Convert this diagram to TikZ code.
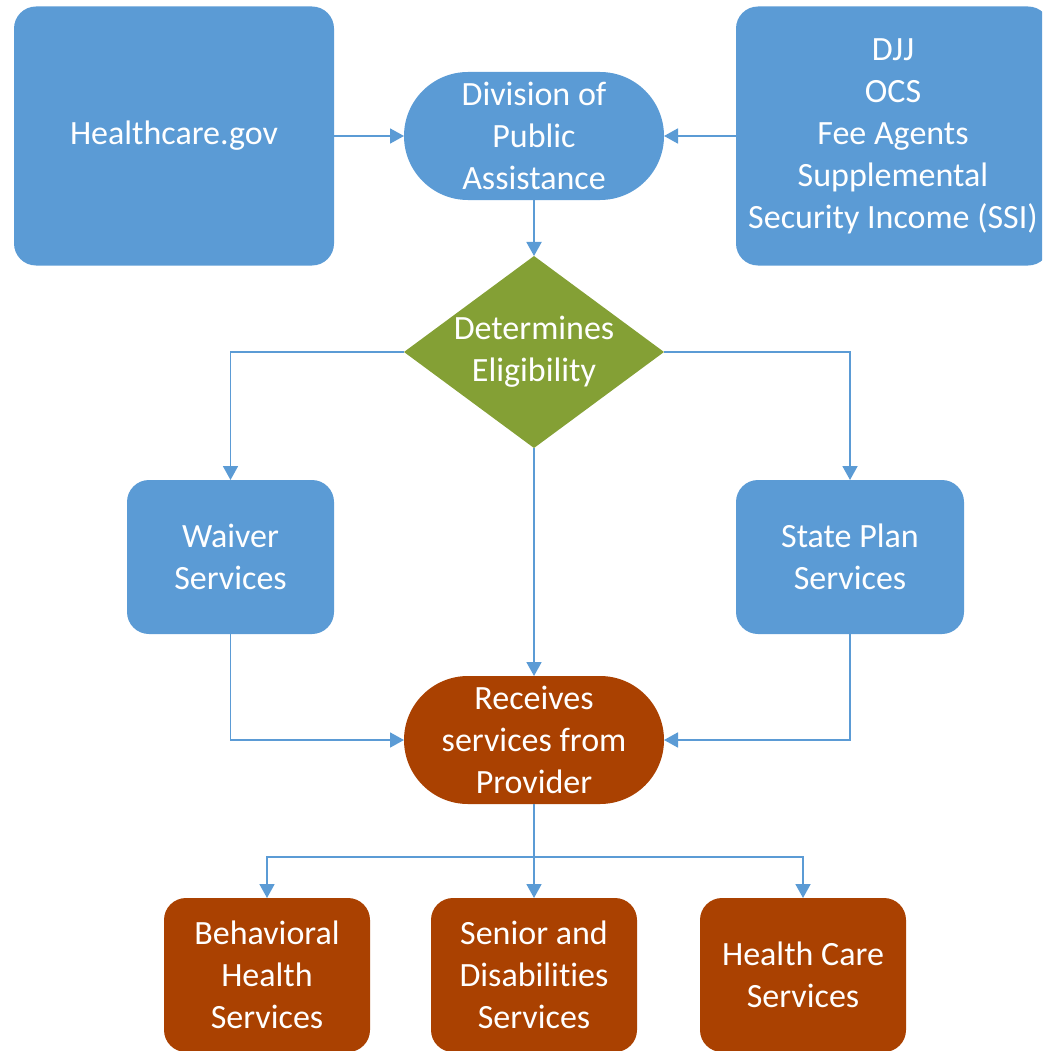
\documentclass[tikz,border=0pt]{standalone}
\usepackage{fontspec}
\setmainfont[Ligatures=NoCommon]{Carlito}
\usetikzlibrary{shapes.geometric,shapes.misc,arrows.meta}
\definecolor{boxblue}{HTML}{5B9BD5}
\definecolor{boxgreen}{HTML}{84A035}
\definecolor{boxbrown}{HTML}{AA4101}
\definecolor{lineblue}{HTML}{5B9BD5}
\begin{document}
\begin{tikzpicture}[x=1pt,y=-1pt,inner sep=0pt,outer sep=0pt,
font=\fontsize{34}{42}\selectfont,
bluebox/.style={rectangle,rounded corners=22pt,fill=boxblue,text=white,align=center},
stadium/.style={rounded rectangle,fill=#1,text=white,align=center,minimum width=260pt,minimum height=128pt},
decision/.style={diamond,shape aspect=1.4,inner sep=-6pt,fill=boxgreen,text=white,align=center,minimum width=260pt,minimum height=192pt},
brownbox/.style={rectangle,rounded corners=22pt,fill=boxbrown,text=white,align=center,minimum width=206pt,minimum height=154pt},
arr/.style={draw=lineblue,line width=1.8pt,-{Triangle[width=15pt,length=14pt]}},
ln/.style={draw=lineblue,line width=1.8pt}]
\useasboundingbox (0,0) rectangle (1042,1051);
\clip (0,0) rectangle (1042,1051);
% top row
\draw (174,136) node[bluebox,minimum width=320pt,minimum height=259pt] (hcgov) {Healthcare.gov};
\draw (534,136) node[stadium=boxblue] (dpa) {Division of\\Public\\Assistance};
\draw (893,136) node[bluebox,minimum width=314pt,minimum height=259pt] (djj) {DJJ\\OCS\\Fee Agents\\Supplemental\\Security Income (SSI)};
\draw (534,352) node[decision] (elig) {Determines\\Eligibility};
% services
\draw (230.5,557) node[bluebox,minimum width=207pt,minimum height=154pt] (waiver) {Waiver\\Services};
\draw (850,557) node[bluebox,minimum width=228pt,minimum height=154pt] (stplan) {State Plan\\Services};
\draw (534,740) node[stadium=boxbrown] (recv) {Receives\\services from\\Provider};
\draw (267,975) node[brownbox] (bhs) {Behavioral\\Health\\Services};
\draw (534,975) node[brownbox] (sds) {Senior and\\Disabilities\\Services};
\draw (803,975) node[brownbox] (hcs) {Health Care\\Services};
\coordinate (bus) at (534,857);
% connectors
\draw[arr] (hcgov) -- (dpa);
\draw[arr] (djj) -- (dpa);
\draw[arr] (dpa) -- (elig);
\draw[arr] (elig.west) -| (waiver.north);
\draw[arr] (elig.east) -| (stplan.north);
\draw[arr] (elig.south) -- (recv.north);
\draw[arr] (waiver.south) |- (recv.west);
\draw[arr] (stplan.south) |- (recv.east);
\draw[ln] (recv.south) -- (bus);
\draw[arr] (bus) -| (bhs.north);
\draw[arr] (bus) -- (sds.north);
\draw[arr] (bus) -| (hcs.north);
\end{tikzpicture}
\end{document}
